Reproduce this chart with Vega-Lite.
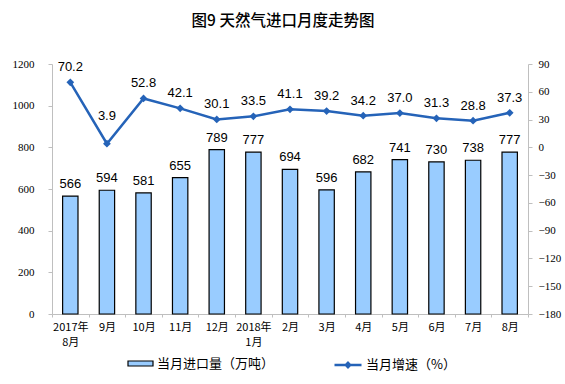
{
  "$schema": "https://vega.github.io/schema/vega-lite/v6.json",
  "width": 476,
  "height": 250,
  "autosize": "none",
  "padding": {"left": 52, "top": 64, "right": 37, "bottom": 70},
  "background": "white",
  "title": {
    "text": "图9 天然气进口月度走势图",
    "font": "Noto Sans CJK SC",
    "fontSize": 15.5,
    "fontWeight": 500,
    "color": "#000000",
    "anchor": "middle",
    "dx": -7,
    "offset": 29
  },
  "config": {
    "view": {"stroke": null},
    "axis": {"grid": false}
  },
  "data": {
    "values": [
      {"month": "2017年|8月", "vol": 566, "rate": 70.2},
      {"month": "9月", "vol": 594, "rate": 3.9},
      {"month": "10月", "vol": 581, "rate": 52.8},
      {"month": "11月", "vol": 655, "rate": 42.1},
      {"month": "12月", "vol": 789, "rate": 30.1},
      {"month": "2018年|1月", "vol": 777, "rate": 33.5},
      {"month": "2月", "vol": 694, "rate": 41.1},
      {"month": "3月", "vol": 596, "rate": 39.2},
      {"month": "4月", "vol": 682, "rate": 34.2},
      {"month": "5月", "vol": 741, "rate": 37.0},
      {"month": "6月", "vol": 730, "rate": 31.3},
      {"month": "7月", "vol": 738, "rate": 28.8},
      {"month": "8月", "vol": 777, "rate": 37.3}
    ]
  },
  "encoding": {
    "x": {
      "field": "month",
      "type": "ordinal",
      "sort": null,
      "scale": {"paddingInner": 0, "paddingOuter": 0},
      "axis": {
        "title": null,
        "labelAngle": 0,
        "labelExpr": "split(datum.label, '|')",
        "labelFont": "Noto Sans CJK SC",
        "labelFontSize": 11,
        "labelColor": "#000000",
        "labelPadding": 4,
        "labelLineHeight": 15,
        "tickBand": "extent",
        "tickSize": 3,
        "tickColor": "#BFBFBF",
        "domainColor": "#BFBFBF"
      }
    }
  },
  "layer": [
    {
      "encoding": {
        "y": {
          "field": "vol",
          "type": "quantitative",
          "scale": {"domain": [0, 1200]},
          "axis": {
            "title": null,
            "orient": "left",
            "format": "d",
            "values": [0, 200, 400, 600, 800, 1000, 1200],
            "labelFont": "Liberation Serif",
            "labelFontSize": 11,
            "labelColor": "#000000",
            "labelPadding": 14,
            "tickSize": 4,
            "tickColor": "#BFBFBF",
            "domainColor": "#BFBFBF"
          }
        }
      },
      "layer": [
        {
          "mark": {"type": "bar", "width": {"band": 0.42}, "stroke": "#000000", "strokeWidth": 1.2},
          "encoding": {
            "color": {
              "datum": "当月进口量（万吨）",
              "scale": {"range": ["#99CCFF"]},
              "legend": {
                "title": null,
                "orient": "none",
                "legendX": 75,
                "legendY": 286,
                "labelFont": "Noto Sans CJK SC",
                "labelFontSize": 13,
                "labelColor": "#000000",
                "labelOffset": 3,
                "symbolType": "M-1,-0.2L1,-0.2L1,0.2L-1,0.2Z",
                "symbolSize": 625,
                "symbolStrokeColor": "#000000",
                "symbolStrokeWidth": 1.2
              }
            }
          }
        },
        {
          "mark": {"type": "text", "dy": -12, "font": "Liberation Sans", "fontSize": 13, "color": "#000000"},
          "encoding": {"text": {"field": "vol", "type": "quantitative"}}
        }
      ]
    },
    {
      "encoding": {
        "y": {
          "field": "rate",
          "type": "quantitative",
          "scale": {"domain": [-180, 90]},
          "axis": {
            "title": null,
            "orient": "right",
            "values": [-180, -150, -120, -90, -60, -30, 0, 30, 60, 90],
            "labelFont": "Liberation Serif",
            "labelFontSize": 11,
            "labelColor": "#000000",
            "labelPadding": 6,
            "tickSize": 4,
            "tickColor": "#BFBFBF",
            "domainColor": "#BFBFBF"
          }
        }
      },
      "layer": [
        {
          "mark": {
            "type": "line",
            "strokeWidth": 2.5,
            "point": {"filled": true, "shape": "diamond", "size": 60}
          },
          "encoding": {
            "color": {
              "datum": "当月增速（%）",
              "scale": {"range": ["#2563B8"]},
              "legend": {
                "title": null,
                "orient": "none",
                "legendX": 281,
                "legendY": 286,
                "labelFont": "Noto Sans CJK SC",
                "labelFontSize": 13,
                "labelColor": "#000000",
                "labelOffset": 3,
                "symbolType": "M-1,0L1,0M0,-0.16L0.16,0L0,0.16L-0.16,0Z",
                "symbolSize": 729,
                "symbolStrokeWidth": 2.5
              }
            }
          }
        },
        {
          "transform": [{"filter": "datum.rate > 10"}],
          "mark": {"type": "text", "dy": -15, "font": "Liberation Sans", "fontSize": 13, "color": "#000000"},
          "encoding": {"text": {"field": "rate", "type": "quantitative", "format": ".1f"}}
        },
        {
          "transform": [{"filter": "datum.rate <= 10"}],
          "mark": {"type": "text", "dy": -28, "font": "Liberation Sans", "fontSize": 13, "color": "#000000"},
          "encoding": {"text": {"field": "rate", "type": "quantitative", "format": ".1f"}}
        }
      ]
    }
  ],
  "resolve": {"scale": {"y": "independent", "color": "independent"}}
}
